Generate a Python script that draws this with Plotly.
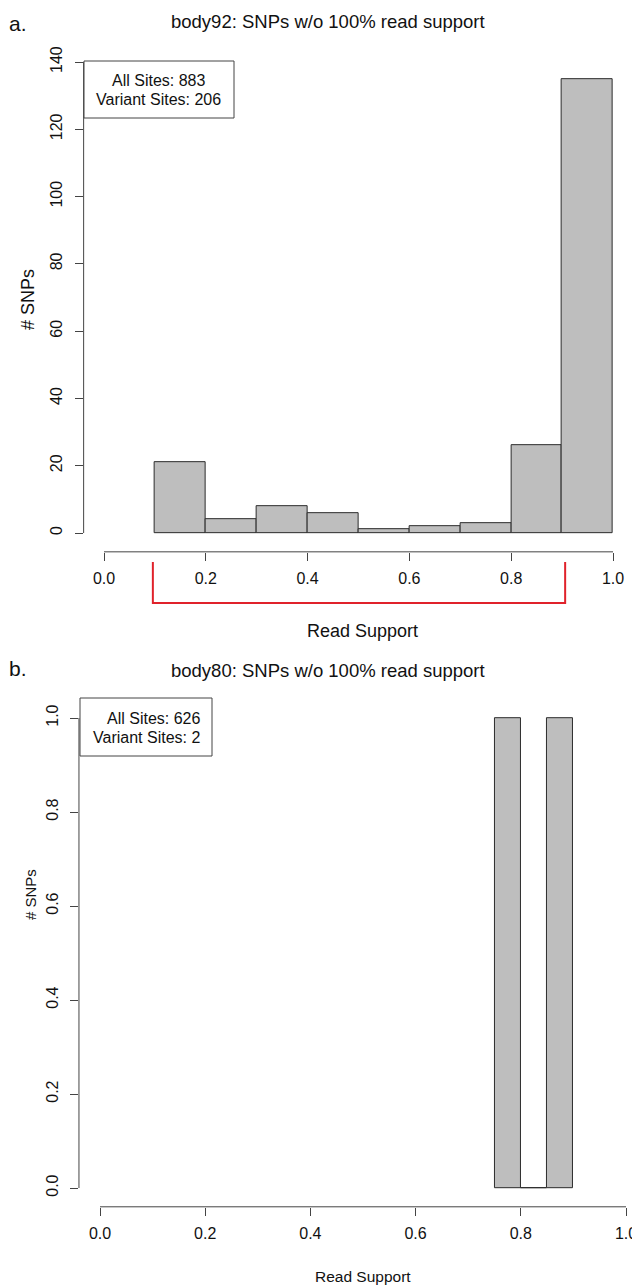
import plotly.graph_objects as go

W, H = 640, 1286
OFF = 8  # default page body margin shifts the figure by 8px

# ---------------- data ----------------
top_bin_left = [0.1, 0.2, 0.3, 0.4, 0.5, 0.6, 0.7, 0.8, 0.9]
top_counts = [21, 4, 8, 6, 1, 2, 3, 26, 135]
top_bin_width = 0.1

bot_bin_left = [0.75, 0.80, 0.85]
bot_counts = [1, 0, 1]
bot_bin_width = 0.05

top_title = "body92: SNPs w/o 100% read support"
bot_title = "body80: SNPs w/o 100% read support"
top_legend = ["All Sites: 883", "Variant Sites: 206"]
bot_legend = ["All Sites: 626", "Variant Sites: 2"]
x_ticks = [0.0, 0.2, 0.4, 0.6, 0.8, 1.0]
top_y_ticks = [0, 20, 40, 60, 80, 100, 120, 140]
bot_y_ticks = [0.0, 0.2, 0.4, 0.6, 0.8, 1.0]
bracket_range = [0.1, 0.9]
x_label = "Read Support"
y_label = "# SNPs"
panel_tags = ["a.", "b."]

# ---------------- style ----------------
FONT = "Liberation Sans, Arial, sans-serif"
AX = "#444444"
BAR_FILL = "#bebebe"
BAR_LINE = "#2b2b2b"
RED = "#e0222b"


def px_x(p):
    return (p - OFF) / W


def px_y(p):
    return 1 - (p - OFF) / H


fig = go.Figure()

fig.add_trace(go.Bar(
    x=[l + top_bin_width / 2 for l in top_bin_left], y=top_counts,
    width=[top_bin_width] * len(top_counts), base=0,
    marker=dict(color=BAR_FILL, line=dict(color=BAR_LINE, width=1)),
    xaxis="x", yaxis="y", showlegend=False, hoverinfo="skip"))

fig.add_trace(go.Bar(
    x=[l + bot_bin_width / 2 for l in bot_bin_left], y=bot_counts,
    width=[bot_bin_width] * len(bot_counts), base=0,
    marker=dict(color=BAR_FILL, line=dict(color=BAR_LINE, width=1)),
    xaxis="x2", yaxis="y2", showlegend=False, hoverinfo="skip"))

common_axis = dict(showgrid=False, zeroline=False, showline=False,
                   ticks="outside", ticklen=8, tickcolor=AX, tickwidth=1,
                   tickfont=dict(family=FONT, size=16, color="#111"))

# top panel: 0 -> 104px, 1 -> 613px ; y: 0 -> 533px, 140 -> 62px
tx0, tx1 = 104.0, 613.0
tsx = tx1 - tx0
ty0, ty140 = 533.0, 62.0
tsy = (ty0 - ty140) / 140.0
top_xr = [-0.04, 1.04]
top_yr = [-5.6, 145.6]

fig.update_layout(
    xaxis=dict(domain=[px_x(tx0 + top_xr[0] * tsx), px_x(tx0 + top_xr[1] * tsx)],
               range=top_xr, anchor="y", tickvals=x_ticks,
               ticktext=[f"{v:.1f}" for v in x_ticks], ticklabelstandoff=4,
               **common_axis),
    yaxis=dict(domain=[px_y(ty0 - top_yr[0] * tsy), px_y(ty0 - top_yr[1] * tsy)],
               range=top_yr, anchor="x", tickvals=top_y_ticks, tickangle=-90,
               ticklabelstandoff=6, **common_axis),
)

# bottom panel: 0 -> 100px, 1 -> 626px ; y: 0 -> 1188px, 1 -> 718px
bx0, bx1 = 100.0, 626.0
bsx = bx1 - bx0
by0, by1 = 1188.0, 718.0
bsy = by0 - by1
bot_xr = [-0.04, (W - bx0) / bsx]
bot_yr = [-0.04, 1.04]

fig.update_layout(
    xaxis2=dict(domain=[px_x(bx0 + bot_xr[0] * bsx), px_x(W)],
                range=bot_xr, anchor="y2", tickvals=x_ticks,
                ticktext=[f"{v:.1f}" for v in x_ticks], ticklabelstandoff=4,
                **common_axis),
    yaxis2=dict(domain=[px_y(by0 - bot_yr[0] * bsy), px_y(by0 - bot_yr[1] * bsy)],
                range=bot_yr, anchor="x2", tickvals=bot_y_ticks,
                ticktext=[f"{v:.1f}" for v in bot_y_ticks], tickangle=-90,
                ticklabelstandoff=6, **common_axis),
)

shapes = []
# axis lines spanning first..last tick (R style)
shapes.append(dict(type="line", xref="x domain", yref="y", x0=0, x1=0,
                   y0=top_y_ticks[0], y1=top_y_ticks[-1], line=dict(color=AX, width=1)))
shapes.append(dict(type="line", xref="x", yref="y domain", x0=x_ticks[0], x1=x_ticks[-1],
                   y0=0, y1=0, line=dict(color=AX, width=1)))
shapes.append(dict(type="line", xref="x2 domain", yref="y2", x0=0, x1=0,
                   y0=bot_y_ticks[0], y1=bot_y_ticks[-1], line=dict(color=AX, width=1)))
shapes.append(dict(type="line", xref="x2", yref="y2 domain", x0=x_ticks[0], x1=x_ticks[-1],
                   y0=0, y1=0, line=dict(color=AX, width=1)))

# red bracket under top axis
br_top, br_bot = px_y(562), px_y(603)
shapes.append(dict(type="path", xref="x", yref="paper",
                   path=f"M {bracket_range[0]-0.004},{br_top} L {bracket_range[0]-0.004},{br_bot} "
                        f"L {bracket_range[1]+0.006},{br_bot} L {bracket_range[1]+0.006},{br_top}",
                   line=dict(color=RED, width=2)))

# legend boxes
shapes.append(dict(type="rect", xref="paper", yref="paper",
                   x0=px_x(84), x1=px_x(234), y0=px_y(61), y1=px_y(118),
                   line=dict(color=AX, width=1), fillcolor="white"))
shapes.append(dict(type="rect", xref="paper", yref="paper",
                   x0=px_x(80), x1=px_x(212), y0=px_y(698), y1=px_y(756),
                   line=dict(color=AX, width=1), fillcolor="white"))

annotations = []


def ann(text, x, y, size, angle=0, xanchor="center", color="#111"):
    annotations.append(dict(text=text, x=px_x(x), y=px_y(y), xref="paper", yref="paper",
                            showarrow=False, textangle=angle, xanchor=xanchor,
                            yanchor="middle", font=dict(family=FONT, size=size, color=color)))


ann(panel_tags[0], 18, 24, 21)
ann(top_title, 328, 22, 18.5)
ann(y_label, 28, 300, 18, angle=-90)
ann(x_label, 362, 631, 18)
ann(top_legend[0], 158, 80, 16)
ann(top_legend[1], 158, 99, 16)

ann(panel_tags[1], 18, 668, 21)
ann(bot_title, 328, 670, 18.5)
ann(y_label, 30, 895, 15, angle=-90)
ann(x_label, 363, 1276, 15.5)
ann(bot_legend[0], 202, 719, 16, xanchor="right")
ann(bot_legend[1], 202, 738, 16, xanchor="right")

fig.update_layout(
    width=W, height=H, margin=dict(l=0, r=0, t=0, b=0),
    paper_bgcolor="white", plot_bgcolor="white",
    shapes=shapes, annotations=annotations, bargap=0,
    font=dict(family=FONT, color="#111"),
)

fig.write_html("out.html", config={"displayModeBar": False})
